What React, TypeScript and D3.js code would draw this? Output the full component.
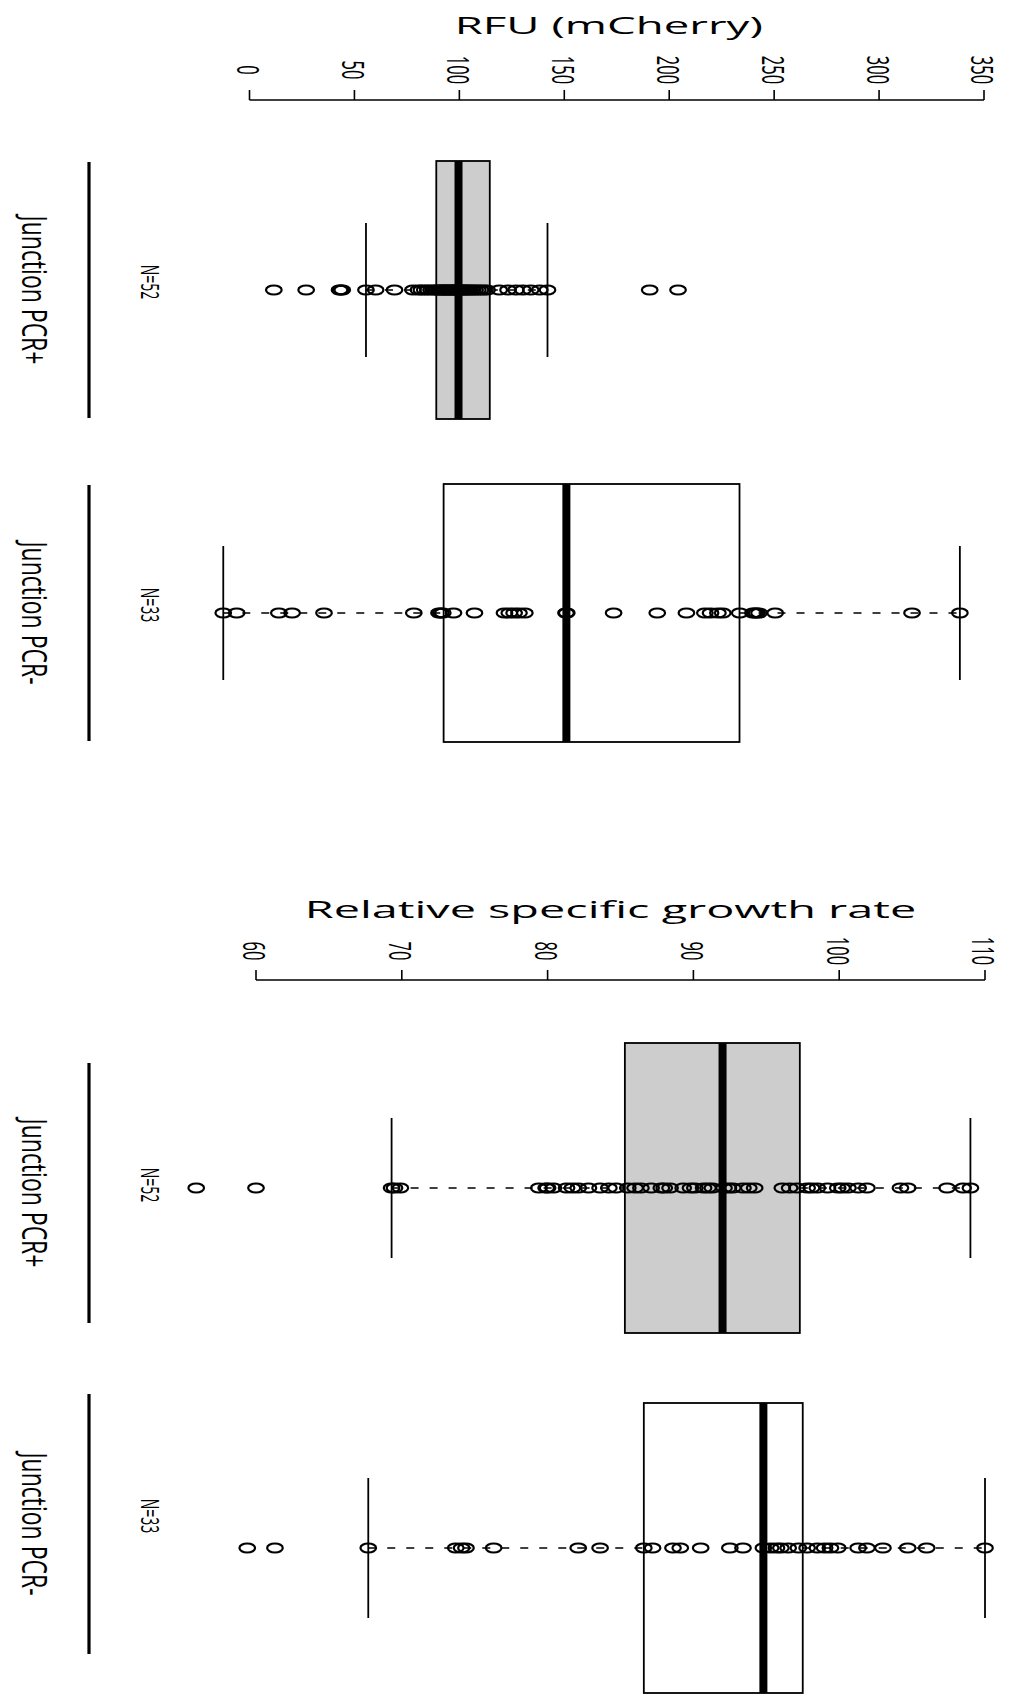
import React from 'react';
import * as d3 from 'd3';

// ---------- DATA ----------
const categories = ['Junction PCR+', 'Junction PCR-'];
const nLabels = ['N=52', 'N=33'];

const rfuTitle = 'RFU (mCherry)';
const rfuTicks = [0, 50, 100, 150, 200, 250, 300, 350];
const rfuPlus = [
  11.6, 27.0, 42.9, 43.5, 44.2,
  55.5, 60.1, 69.1, 77.9, 80.5, 81.9, 83.5, 85.0, 86.5, 88.2,
  89.0, 90.1, 91.0, 91.8, 92.5, 93.3, 94.0, 94.8, 95.5, 96.3, 97.0, 97.8, 98.5, 99.2,
  99.6, 100.1, 100.8, 101.7, 102.5, 103.4, 104.3, 105.2, 106.4, 107.5, 108.8, 110.1, 111.6, 113.2,
  119.0, 123.2, 127.0, 130.3, 134.0, 138.3, 142.0,
  190.7, 204.2,
];
const rfuMinus = [
  -12.5, -6.1, 14.0, 20.3, 35.5, 78.3, 90.3, 91.2, 92.1, 97.2, 107.2, 121.5, 123.8, 126.1,
  128.4, 131.2, 150.8, 151.2, 173.5, 194.3, 208.2, 217.0, 219.7, 223.2, 225.5, 233.6, 239.9,
  240.8, 241.7, 242.8, 250.5, 315.7, 338.5,
];
// [whiskerLow, q1, median, q3, whiskerHigh] per category
const rfuStatsPlus = [55.5, 89.0, 99.6, 114.5, 142.0];
const rfuStatsMinus = [-12.5, 92.5, 151.0, 233.5, 338.5];

const growthTitle = 'Relative specific growth rate';
const growthTicks = [60, 70, 80, 90, 100, 110];
const growthPlus = [
  55.9, 60.0, 69.3, 69.5, 69.9, 79.4, 79.9, 80.0, 80.4, 81.3, 81.7, 82.1, 82.8, 83.6, 84.2,
  84.7, 85.5, 86.0, 86.4, 87.1, 87.8, 88.0, 88.4, 89.3, 89.8, 90.1, 90.7, 91.0, 91.3, 92.1,
  92.4, 92.7, 93.4, 93.8, 94.2, 96.1, 96.6, 97.1, 97.8, 98.1, 98.5, 99.2, 99.9, 100.2, 100.6,
  101.3, 101.9, 104.2, 104.7, 107.4, 108.5, 109.0,
];
const growthMinus = [
  59.4, 61.3, 67.7, 73.7, 74.1, 74.4, 76.3, 82.1, 83.6, 86.6, 87.2, 88.6, 89.1, 90.5, 92.5,
  93.4, 94.8, 95.3, 95.7, 96.0, 96.5, 97.2, 97.8, 98.5, 99.0, 99.4, 99.9, 101.3, 101.9, 103.0,
  104.7, 106.0, 110.0,
];
const growthStatsPlus = [69.3, 85.3, 92.0, 97.3, 109.0];
const growthStatsMinus = [67.7, 86.6, 94.8, 97.5, 110.0];

const boxFills = ['#cdcdcd', '#ffffff'];

// ---------- LAYOUT ----------
const W = 1010;
const H = 1697;
const FONT = "'Open Sans', 'DejaVu Sans', sans-serif";

type PanelProps = {
  title: string;
  titleShift: number;
  titleStretch: number;
  ticks: number[];
  domain: [number, number];
  xRange: [number, number];
  titleY: number;
  labelY: number;
  axisY: number;
  lineCenters: number[];
  boxCenters: number[];
  lineHalf: number;
  boxHalf: number;
  capHalf: number;
  stats: number[][];
  points: number[][];
};

function Panel(p: PanelProps) {
  const x = d3.scaleLinear().domain(p.domain).range(p.xRange);
  const axisX = 89;
  const titleX = (p.xRange[0] + p.xRange[1]) / 2 + p.titleShift;
  return (
    <g>
      <text
        transform={`translate(${titleX},${p.titleY}) scale(${p.titleStretch},1)`}
        textAnchor="middle"
        dominantBaseline="central"
        fontFamily={FONT}
        fontSize={24}
        fill="#000"
      >
        {p.title}
      </text>
      {/* value axis */}
      <line
        x1={x(p.ticks[0])}
        x2={x(p.ticks[p.ticks.length - 1])}
        y1={p.axisY}
        y2={p.axisY}
        stroke="#000"
        strokeWidth={1.6}
      />
      {p.ticks.map((t) => (
        <g key={t}>
          <line x1={x(t)} x2={x(t)} y1={p.axisY - 10} y2={p.axisY} stroke="#000" strokeWidth={1.6} />
          <text
            transform={`translate(${x(t)},${p.labelY}) scale(1.9,1) rotate(90)`}
            textAnchor="middle"
            dominantBaseline="central"
            fontFamily={FONT}
            fontSize={16.5}
            fill="#000"
          >
            {t}
          </text>
        </g>
      ))}
      {categories.map((c, i) => {
        const cy = p.boxCenters[i];
        const ly = p.lineCenters[i];
        const [lo, q1, med, q3, hi] = p.stats[i];
        return (
          <g key={c}>
            {/* category axis segment */}
            <line x1={axisX} x2={axisX} y1={ly - p.lineHalf} y2={ly + p.lineHalf} stroke="#000" strokeWidth={3.2} />
            <text
              transform={`translate(35,${ly}) scale(1.5,1) rotate(90)`}
              textAnchor="middle"
              dominantBaseline="central"
              fontFamily={FONT}
              fontSize={23}
              fill="#000"
            >
              {c}
            </text>
            <text
              transform={`translate(151,${ly - 8}) scale(1.8,1) rotate(90)`}
              textAnchor="middle"
              dominantBaseline="central"
              fontFamily={FONT}
              fontSize={14}
              fill="#000"
            >
              {nLabels[i]}
            </text>
            {/* whiskers */}
            <line x1={x(lo)} x2={x(q1)} y1={cy} y2={cy} stroke="#000" strokeWidth={1.4} strokeDasharray="8 11" />
            <line x1={x(q3)} x2={x(hi)} y1={cy} y2={cy} stroke="#000" strokeWidth={1.4} strokeDasharray="8 11" />
            <line x1={x(lo)} x2={x(lo)} y1={cy - p.capHalf} y2={cy + p.capHalf} stroke="#000" strokeWidth={1.8} />
            <line x1={x(hi)} x2={x(hi)} y1={cy - p.capHalf} y2={cy + p.capHalf} stroke="#000" strokeWidth={1.8} />
            {/* box */}
            <rect
              x={x(q1)}
              y={cy - p.boxHalf}
              width={x(q3) - x(q1)}
              height={p.boxHalf * 2}
              fill={boxFills[i]}
              stroke="#000"
              strokeWidth={1.8}
            />
            <line x1={x(med)} x2={x(med)} y1={cy - p.boxHalf} y2={cy + p.boxHalf} stroke="#000" strokeWidth={8} />
            {/* points */}
            {p.points[i].map((v, j) => (
              <ellipse key={j} cx={x(v)} cy={cy} rx={7.8} ry={4.5} fill="none" stroke="#000" strokeWidth={2.2} />
            ))}
          </g>
        );
      })}
    </g>
  );
}

export default function App() {
  return (
    <svg
      width={W}
      height={H}
      viewBox={`0 0 ${W} ${H}`}
      style={{ position: 'absolute', left: 0, top: 0, background: '#fff' }}
    >
      <rect x={0} y={0} width={W} height={H} fill="#fff" />
      <Panel
        title={rfuTitle}
        titleShift={-8}
        titleStretch={1.9}
        ticks={rfuTicks}
        domain={[0, 350]}
        xRange={[249.5, 984]}
        titleY={25}
        labelY={70}
        axisY={100}
        lineCenters={[290, 613]}
        boxCenters={[290, 613]}
        lineHalf={128}
        boxHalf={129}
        capHalf={67}
        stats={[rfuStatsPlus, rfuStatsMinus]}
        points={[rfuPlus, rfuMinus]}
      />
      <Panel
        title={growthTitle}
        titleShift={-10}
        titleStretch={1.95}
        ticks={growthTicks}
        domain={[60, 110]}
        xRange={[256, 985]}
        titleY={909}
        labelY={951}
        axisY={980}
        lineCenters={[1193, 1524]}
        boxCenters={[1188, 1548]}
        lineHalf={130}
        boxHalf={145}
        capHalf={70}
        stats={[growthStatsPlus, growthStatsMinus]}
        points={[growthPlus, growthMinus]}
      />
    </svg>
  );
}
